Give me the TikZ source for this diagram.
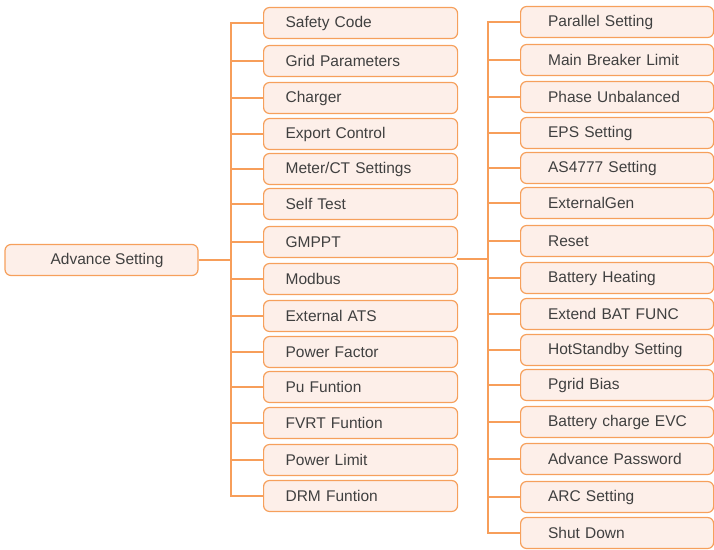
\documentclass[tikz,border=0pt]{standalone}
\usepackage{fontspec}
\setmainfont{Liberation Sans}
\usetikzlibrary{positioning}

\definecolor{boxfill}{RGB}{253,239,233}
\definecolor{boxline}{RGB}{246,160,92}
\definecolor{linkline}{RGB}{247,158,90}
\definecolor{txtgray}{RGB}{64,64,64}

\begin{document}
\begin{tikzpicture}[
    x=1pt, y=-1pt,
    % common look of all boxes
    box/.style={rectangle, draw=boxline, fill=boxfill, line width=1.2pt, rounded corners=6pt,
        minimum height=31pt, inner ysep=2pt, text=txtgray, font=\fontsize{15.5}{18}\selectfont},
    rootbox/.style={box, minimum width=193pt, align=center},
    midbox/.style={box, anchor=west, inner xsep=22pt, text width=150pt, align=left},
    rightbox/.style={box, anchor=west, inner xsep=22pt, text width=149pt, align=left,
        execute at begin node={\noindent\hspace*{5.5pt}}},
    conn/.style={draw=linkline, line width=1.4pt}
]
    \useasboundingbox (0,0) rectangle (714,549);

    % 1. Root node
    \node[rootbox] (adv) at (101.5,260) {\hspace*{11pt}Advance Setting};

    % 2. Middle column (left edge at x=263)
    \node[midbox] (safety)  at (263,23)  {Safety Code};
    \node[midbox] (grid)    at (263,61)  {Grid Parameters};
    \node[midbox] (charger) at (263,98)  {Charger};
    \node[midbox] (export)  at (263,134) {Export Control};
    \node[midbox] (meter)   at (263,169) {Meter/CT Settings};
    \node[midbox] (selftest) at (263,204) {Self Test};
    \node[midbox] (gmppt)   at (263,242) {GMPPT};
    \node[midbox] (modbus)  at (263,279) {Modbus};
    \node[midbox] (ats)     at (263,316) {External ATS};
    \node[midbox] (pf)      at (263,352) {Power Factor};
    \node[midbox] (pu)      at (263,387) {Pu Funtion};
    \node[midbox] (fvrt)    at (263,423) {FVRT Funtion};
    \node[midbox] (plimit)  at (263,460) {Power Limit};
    \node[midbox] (drm)     at (263,496) {DRM Funtion};

    % 3. Right column (left edge at x=520)
    \node[rightbox] (parallel) at (520,22)  {Parallel Setting};
    \node[rightbox] (breaker)  at (520,60)  {Main Breaker Limit};
    \node[rightbox] (phase)    at (520,97)  {Phase Unbalanced};
    \node[rightbox] (eps)      at (520,133) {EPS Setting};
    \node[rightbox] (as4777)   at (520,168) {AS4777 Setting};
    \node[rightbox] (extgen)   at (520,203) {ExternalGen};
    \node[rightbox] (reset)    at (520,241) {Reset};
    \node[rightbox] (heating)  at (520,278) {Battery Heating};
    \node[rightbox] (extbat)   at (520,314) {Extend BAT FUNC};
    \node[rightbox] (hotstby)  at (520,350) {HotStandby Setting};
    \node[rightbox] (pgrid)    at (520,385) {Pgrid Bias};
    \node[rightbox] (evc)      at (520,422) {Battery charge EVC};
    \node[rightbox] (password) at (520,459) {Advance Password};
    \node[rightbox] (arc)      at (520,497) {ARC Setting};
    \node[rightbox] (shutdown) at (520,533) {Shut Down};

    % 4. Bus points
    \coordinate (lbus) at (231,260);
    \coordinate (mout) at (456.5,259);
    \coordinate (rbus) at (488,259);

    % 5. Connectors, root to middle column
    \draw[conn] (adv.east) -- (lbus);
    \draw[conn] (lbus) |- (safety.west) (lbus) |- (grid.west) (lbus) |- (charger.west)
        (lbus) |- (export.west) (lbus) |- (meter.west) (lbus) |- (selftest.west)
        (lbus) |- (gmppt.west) (lbus) |- (modbus.west) (lbus) |- (ats.west)
        (lbus) |- (pf.west) (lbus) |- (pu.west) (lbus) |- (fvrt.west)
        (lbus) |- (plimit.west) (lbus) |- (drm.west);

    % 6. Connectors, middle column to right column
    \draw[conn] (mout) -- (rbus);
    \draw[conn] (rbus) |- (parallel.west) (rbus) |- (breaker.west) (rbus) |- (phase.west)
        (rbus) |- (eps.west) (rbus) |- (as4777.west) (rbus) |- (extgen.west)
        (rbus) |- (reset.west) (rbus) |- (heating.west) (rbus) |- (extbat.west)
        (rbus) |- (hotstby.west) (rbus) |- (pgrid.west) (rbus) |- (evc.west)
        (rbus) |- (password.west) (rbus) |- (arc.west) (rbus) |- (shutdown.west);

\end{tikzpicture}
\end{document}
